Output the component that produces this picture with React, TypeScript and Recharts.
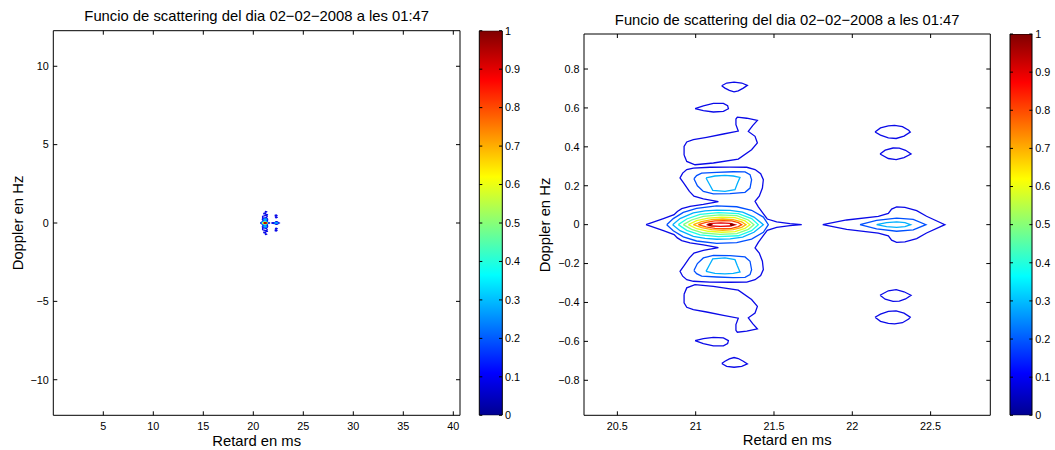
import React from 'react';
import { ScatterChart, Scatter, BarChart, Bar, XAxis, YAxis } from 'recharts';

type Pt = [number, number];

// ---------- texts ----------
const TITLE = 'Funcio de scattering del dia 02\u221202\u22122008 a les 01:47';
const X_LABEL = 'Retard en ms';
const Y_LABEL = 'Doppler en Hz';

// ---------- ticks / domains ----------
const leftXTicks = [5, 10, 15, 20, 25, 30, 35, 40];
const leftYTicks = [-10, -5, 0, 5, 10];
const leftXDomain: [number, number] = [0, 40.67];
const leftYDomain: [number, number] = [-12.27, 12.27];

const rightXTicks = [20.5, 21, 21.5, 22, 22.5];
const rightYTicks = [-0.8, -0.6, -0.4, -0.2, 0, 0.2, 0.4, 0.6, 0.8];
const rightXDomain: [number, number] = [20.287, 22.881];
const rightYDomain: [number, number] = [-0.98, 0.98];

const colorbarTicks = [0, 0.1, 0.2, 0.3, 0.4, 0.5, 0.6, 0.7, 0.8, 0.9, 1];
const colorbarData = [{ name: 'jet', v: 1 }];

// ---------- contour lines (Retard ms, Doppler Hz) ----------
const mainOuter: Pt[] = [
  [20.683, 0], [20.794, 0.031], [20.862, 0.051], [20.883, 0.068], [20.911, 0.082], [20.964, 0.094],
  [21.049, 0.104], [21.145, 0.118], [21.049, 0.132], [20.989, 0.146], [20.96, 0.171], [20.926, 0.211],
  [20.9, 0.24], [20.917, 0.265], [20.943, 0.283], [20.985, 0.291], [21.091, 0.295], [21.219, 0.296],
  [21.326, 0.295], [21.379, 0.283], [21.415, 0.262], [21.432, 0.231], [21.426, 0.188], [21.406, 0.146],
  [21.379, 0.12], [21.4, 0.091], [21.428, 0.06], [21.457, 0.029], [21.517, 0.014], [21.602, 0.005],
  [21.677, 0],
  [21.602, -0.005], [21.517, -0.014], [21.457, -0.029], [21.428, -0.06], [21.4, -0.091], [21.379, -0.12],
  [21.406, -0.146], [21.426, -0.188], [21.432, -0.231], [21.415, -0.262], [21.379, -0.283], [21.326, -0.295],
  [21.219, -0.296], [21.091, -0.295], [20.985, -0.291], [20.943, -0.283], [20.917, -0.265], [20.9, -0.24],
  [20.926, -0.211], [20.96, -0.171], [20.989, -0.146], [21.049, -0.132], [21.145, -0.118], [21.049, -0.104],
  [20.964, -0.094], [20.911, -0.082], [20.883, -0.068], [20.862, -0.051], [20.794, -0.031], [20.683, 0],
];

const blobUpper: Pt[] = [
  [20.926, 0.358], [20.926, 0.402], [20.943, 0.425], [20.985, 0.437], [21.07, 0.449], [21.177, 0.466],
  [21.272, 0.481], [21.257, 0.514], [21.257, 0.543], [21.266, 0.553], [21.326, 0.547], [21.394, 0.536],
  [21.364, 0.509], [21.336, 0.479], [21.379, 0.454], [21.394, 0.42], [21.357, 0.385], [21.272, 0.337],
  [21.113, 0.317], [20.996, 0.308], [20.943, 0.325], [20.926, 0.358],
];
const blobLower: Pt[] = [
  [20.926, -0.358], [20.926, -0.402], [20.943, -0.425], [20.985, -0.437], [21.07, -0.449], [21.177, -0.466],
  [21.272, -0.481], [21.257, -0.514], [21.257, -0.543], [21.266, -0.553], [21.326, -0.547], [21.394, -0.536],
  [21.364, -0.509], [21.336, -0.479], [21.379, -0.454], [21.394, -0.42], [21.357, -0.385], [21.272, -0.337],
  [21.113, -0.317], [20.996, -0.308], [20.943, -0.325], [20.926, -0.358],
];

const ovalTopUpper: Pt[] = [
  [21.166, 0.714], [21.198, 0.728], [21.245, 0.733], [21.294, 0.728], [21.33, 0.716], [21.304, 0.702],
  [21.272, 0.688], [21.245, 0.683], [21.215, 0.69], [21.187, 0.702], [21.166, 0.714],
];
const ovalTopLower: Pt[] = [
  [21.166, -0.714], [21.198, -0.728], [21.245, -0.733], [21.294, -0.728], [21.33, -0.716], [21.304, -0.702],
  [21.272, -0.688], [21.245, -0.683], [21.215, -0.69], [21.187, -0.702], [21.166, -0.714],
];
const ovalMidUpper: Pt[] = [
  [20.996, 0.596], [21.049, 0.611], [21.113, 0.623], [21.177, 0.623], [21.204, 0.611], [21.209, 0.596],
  [21.177, 0.582], [21.113, 0.579], [21.049, 0.586], [20.996, 0.596],
];
const ovalMidLower: Pt[] = [
  [20.996, -0.596], [21.049, -0.611], [21.113, -0.623], [21.177, -0.623], [21.204, -0.611], [21.209, -0.596],
  [21.177, -0.582], [21.113, -0.579], [21.049, -0.586], [20.996, -0.596],
];

const lobeUpper2: Pt[] = [
  [20.989, 0.236], [21.006, 0.252], [21.038, 0.265], [21.134, 0.269], [21.24, 0.272], [21.315, 0.271],
  [21.347, 0.257], [21.357, 0.231], [21.347, 0.188], [21.315, 0.166], [21.219, 0.159], [21.113, 0.158],
  [21.049, 0.171], [21.011, 0.2], [20.989, 0.236],
];
const lobeLower2: Pt[] = [
  [20.989, -0.236], [21.006, -0.252], [21.038, -0.265], [21.134, -0.269], [21.24, -0.272], [21.315, -0.271],
  [21.347, -0.257], [21.357, -0.231], [21.347, -0.188], [21.315, -0.166], [21.219, -0.159], [21.113, -0.158],
  [21.049, -0.171], [21.011, -0.2], [20.989, -0.236],
];
const lobeUpper3: Pt[] = [
  [21.066, 0.24], [21.123, 0.25], [21.187, 0.253], [21.24, 0.25], [21.283, 0.243], [21.266, 0.211],
  [21.251, 0.18], [21.187, 0.171], [21.109, 0.176], [21.087, 0.209], [21.066, 0.24],
];
const lobeLower3: Pt[] = [
  [21.066, -0.24], [21.123, -0.25], [21.187, -0.253], [21.24, -0.25], [21.283, -0.243], [21.266, -0.211],
  [21.251, -0.18], [21.187, -0.171], [21.109, -0.176], [21.087, -0.209], [21.066, -0.24],
];

const core2: Pt[] = [
  [20.815, 0], [20.857, 0.031], [20.921, 0.063], [21.006, 0.084], [21.134, 0.096], [21.262, 0.092],
  [21.357, 0.074], [21.432, 0.039], [21.464, 0], [21.432, -0.039], [21.357, -0.074], [21.262, -0.092],
  [21.134, -0.096], [21.006, -0.084], [20.921, -0.063], [20.857, -0.031], [20.815, 0],
];
const core3: Pt[] = [
  [20.853, 0], [20.9, 0.031], [20.985, 0.06], [21.06, 0.071], [21.134, 0.075], [21.22, 0.073], [21.3, 0.064],
  [21.372, 0.039], [21.432, 0], [21.372, -0.039], [21.3, -0.064], [21.22, -0.073], [21.134, -0.075],
  [21.06, -0.071], [20.985, -0.06], [20.9, -0.031], [20.853, 0],
];
const core4: Pt[] = [
  [20.889, 0], [20.943, 0.029], [21.028, 0.053], [21.145, 0.062], [21.272, 0.057], [21.357, 0.031], [21.4, 0],
  [21.357, -0.031], [21.272, -0.057], [21.145, -0.062], [21.028, -0.053], [20.943, -0.029], [20.889, 0],
];
const core5: Pt[] = [
  [20.921, 0], [20.974, 0.024], [21.049, 0.043], [21.155, 0.05], [21.262, 0.046], [21.336, 0.024], [21.372, 0],
  [21.336, -0.024], [21.262, -0.046], [21.155, -0.05], [21.049, -0.043], [20.974, -0.024], [20.921, 0],
];
const core6: Pt[] = [
  [20.953, 0], [21.006, 0.021], [21.081, 0.034], [21.166, 0.039], [21.251, 0.036], [21.315, 0.019], [21.347, 0],
  [21.315, -0.019], [21.251, -0.036], [21.166, -0.039], [21.081, -0.034], [21.006, -0.021], [20.953, 0],
];
const core7: Pt[] = [
  [20.985, 0], [21.038, 0.015], [21.102, 0.026], [21.172, 0.029], [21.24, 0.026], [21.294, 0.014], [21.321, 0],
  [21.294, -0.014], [21.24, -0.026], [21.172, -0.029], [21.102, -0.026], [21.038, -0.015], [20.985, 0],
];
const core8: Pt[] = [
  [21.017, 0], [21.066, 0.012], [21.123, 0.019], [21.177, 0.021], [21.23, 0.019], [21.272, 0.01], [21.294, 0],
  [21.272, -0.01], [21.23, -0.019], [21.177, -0.021], [21.123, -0.019], [21.066, -0.012], [21.017, 0],
];
const core9: Pt[] = [
  [21.07, 0], [21.102, 0.007], [21.16, 0.009], [21.219, 0.007], [21.251, 0],
  [21.219, -0.007], [21.16, -0.009], [21.102, -0.007], [21.07, 0],
];
const peakLeft: Pt[] = [[21.08, 0], [21.091, 0.004], [21.102, 0], [21.091, -0.004], [21.08, 0]];
const peakRight: Pt[] = [[21.219, 0], [21.23, 0.004], [21.241, 0], [21.23, -0.004], [21.219, 0]];

const echo1: Pt[] = [
  [21.811, 0], [21.964, 0.024], [22.166, 0.043], [22.23, 0.058], [22.251, 0.08], [22.283, 0.091], [22.336, 0.089],
  [22.411, 0.072], [22.474, 0.043], [22.591, 0], [22.474, -0.043], [22.411, -0.072], [22.336, -0.089],
  [22.283, -0.091], [22.251, -0.08], [22.23, -0.058], [22.166, -0.043], [21.964, -0.024], [21.811, 0],
];
const echo2: Pt[] = [
  [22.049, 0], [22.155, 0.022], [22.283, 0.034], [22.389, 0.027], [22.47, 0],
  [22.389, -0.027], [22.283, -0.034], [22.155, -0.022], [22.049, 0],
];
const echo3: Pt[] = [
  [22.155, 0], [22.219, 0.01], [22.283, 0.014], [22.336, 0.01], [22.372, 0],
  [22.336, -0.01], [22.283, -0.014], [22.219, -0.01], [22.155, 0],
];
const echoOvalA: Pt[] = [
  [22.145, 0.476], [22.18, 0.497], [22.23, 0.508], [22.27, 0.51], [22.32, 0.504], [22.36, 0.485], [22.37, 0.476],
  [22.33, 0.455], [22.28, 0.443], [22.23, 0.446], [22.18, 0.46], [22.145, 0.476],
];
const echoOvalB: Pt[] = [
  [22.177, 0.363], [22.21, 0.383], [22.26, 0.394], [22.3, 0.393], [22.34, 0.382], [22.375, 0.363],
  [22.33, 0.345], [22.28, 0.334], [22.23, 0.34], [22.177, 0.363],
];
const echoOvalC: Pt[] = [
  [22.177, -0.363], [22.21, -0.383], [22.26, -0.394], [22.3, -0.393], [22.34, -0.382], [22.375, -0.363],
  [22.33, -0.345], [22.28, -0.334], [22.23, -0.34], [22.177, -0.363],
];
const echoOvalD: Pt[] = [
  [22.145, -0.476], [22.18, -0.497], [22.23, -0.508], [22.27, -0.51], [22.32, -0.504], [22.36, -0.485], [22.37, -0.476],
  [22.33, -0.455], [22.28, -0.443], [22.23, -0.446], [22.18, -0.46], [22.145, -0.476],
];

// contour level of each line (1 = 0.1 ... 9 = 0.9, 10 = peak)
const contourSet: { level: number; pts: Pt[] }[] = [
  { level: 1, pts: mainOuter },
  { level: 1, pts: blobUpper },
  { level: 1, pts: blobLower },
  { level: 1, pts: ovalTopUpper },
  { level: 1, pts: ovalTopLower },
  { level: 1, pts: ovalMidUpper },
  { level: 1, pts: ovalMidLower },
  { level: 1, pts: echo1 },
  { level: 1, pts: echoOvalA },
  { level: 1, pts: echoOvalB },
  { level: 1, pts: echoOvalC },
  { level: 1, pts: echoOvalD },
  { level: 2, pts: lobeUpper2 },
  { level: 2, pts: lobeLower2 },
  { level: 2, pts: core2 },
  { level: 2, pts: echo2 },
  { level: 3, pts: lobeUpper3 },
  { level: 3, pts: lobeLower3 },
  { level: 3, pts: core3 },
  { level: 3, pts: echo3 },
  { level: 4, pts: core4 },
  { level: 5, pts: core5 },
  { level: 6, pts: core6 },
  { level: 7, pts: core7 },
  { level: 8, pts: core8 },
  { level: 9, pts: core9 },
  { level: 10, pts: peakLeft },
  { level: 10, pts: peakRight },
];

// ---------- styles ----------
const levelColors = ['#0a0ae8', '#0050ff', '#00b0ff', '#1affe6', '#80ff80', '#e6ff1a', '#ffb300', '#ff4d00', '#e60000', '#800000'];
const FONT = '"Liberation Sans", Arial, Helvetica, sans-serif';
const TICK_FONT = 10.8;
const LABEL_FONT = 14.8;
const TICK_LEN = 4;
const X_MARGIN = 7;
const Y_MARGIN = 4.5;
const CB_TICK = 3;
const CB_MARGIN = 3;

const fmt = (v: number) => (v < 0 ? '\u2212' + String(Math.abs(v)) : String(v));

const NoDot = () => <g />;

const BottomTick = (p: any) => (
  <g>
    <line x1={p.x} x2={p.x} y1={p.y - X_MARGIN} y2={p.y - X_MARGIN - TICK_LEN} stroke="#000" strokeWidth={1} />
    <text x={p.x} y={p.y} dy="0.71em" textAnchor="middle" fontSize={TICK_FONT} fontFamily={FONT} fill="#000">
      {fmt(p.payload.value)}
    </text>
  </g>
);
const LeftTick = (p: any) => (
  <g>
    <line x1={p.x + Y_MARGIN} x2={p.x + Y_MARGIN + TICK_LEN} y1={p.y} y2={p.y} stroke="#000" strokeWidth={1} />
    <text x={p.x} y={p.y} dy="0.355em" textAnchor="end" fontSize={TICK_FONT} fontFamily={FONT} fill="#000">
      {fmt(p.payload.value)}
    </text>
  </g>
);
const TopTick = (p: any) => (
  <line x1={p.x} x2={p.x} y1={p.y} y2={p.y + TICK_LEN} stroke="#000" strokeWidth={1} />
);
const RightTick = (p: any) => (
  <line x1={p.x} x2={p.x - TICK_LEN} y1={p.y} y2={p.y} stroke="#000" strokeWidth={1} />
);
const CbLeftTick = (p: any) => (
  <line x1={p.x} x2={p.x + CB_TICK} y1={p.y} y2={p.y} stroke="#000" strokeWidth={1} />
);
const CbRightTick = (p: any) => (
  <g>
    <line x1={p.x - CB_MARGIN} x2={p.x - CB_MARGIN - CB_TICK} y1={p.y} y2={p.y} stroke="#000" strokeWidth={1} />
    <text x={p.x} y={p.y} dy="0.355em" textAnchor="start" fontSize={TICK_FONT} fontFamily={FONT} fill="#000">
      {fmt(p.payload.value)}
    </text>
  </g>
);

const AXIS_LINE = { stroke: '#000', strokeWidth: 1 };

type PanelProps = {
  left: number;
  width: number;
  marginRight: number;
  leftW: number;
  rightW: number;
  topH: number;
  bottomH: number;
  xDomain: [number, number];
  yDomain: [number, number];
  xTicks: number[];
  yTicks: number[];
};

function Panel(props: PanelProps) {
  const { left, width, marginRight, leftW, rightW, topH, bottomH, xDomain, yDomain, xTicks, yTicks } = props;
  return (
    <div style={{ position: 'absolute', left, top: 0 }}>
      <ScatterChart width={width} height={450} margin={{ top: 0, right: marginRight, bottom: 0, left: 0 }}>
        <XAxis
          xAxisId="b" orientation="bottom" type="number" dataKey="x" domain={xDomain} ticks={xTicks}
          allowDataOverflow interval={0} height={bottomH} tickSize={0} tickMargin={X_MARGIN}
          tickLine={false} axisLine={AXIS_LINE} tick={BottomTick}
        />
        <XAxis
          xAxisId="t" orientation="top" type="number" dataKey="x" domain={xDomain} ticks={xTicks}
          allowDataOverflow interval={0} height={topH} tickSize={0} tickMargin={0}
          tickLine={false} axisLine={AXIS_LINE} tick={TopTick}
        />
        <YAxis
          yAxisId="l" orientation="left" type="number" dataKey="y" domain={yDomain} ticks={yTicks}
          allowDataOverflow interval={0} width={leftW} tickSize={0} tickMargin={Y_MARGIN}
          tickLine={false} axisLine={AXIS_LINE} tick={LeftTick}
        />
        <YAxis
          yAxisId="r" orientation="right" type="number" dataKey="y" domain={yDomain} ticks={yTicks}
          allowDataOverflow interval={0} width={rightW} tickSize={0} tickMargin={0}
          tickLine={false} axisLine={AXIS_LINE} tick={RightTick}
        />
        {contourSet.map((c, i) => (
          <Scatter
            key={i}
            xAxisId="b"
            yAxisId="l"
            data={c.pts.map(([x, y]) => ({ x, y }))}
            line={{ stroke: levelColors[c.level - 1], strokeWidth: 1.3 }}
            lineType="joint"
            shape={NoDot}
            fill={levelColors[c.level - 1]}
            isAnimationActive={false}
          />
        ))}
      </ScatterChart>
    </div>
  );
}

type BarProps = { left: number; width: number; leftW: number; rightW: number; top: number; bottom: number };

function ColorBar({ left, width, leftW, rightW, top, bottom }: BarProps) {
  return (
    <div style={{ position: 'absolute', left, top: 0 }}>
      <BarChart
        width={width} height={450} data={colorbarData}
        margin={{ top, right: 0, bottom, left: 0 }} barCategoryGap={0} barGap={0}
      >
        <XAxis dataKey="name" type="category" hide />
        <YAxis
          yAxisId="cl" orientation="left" type="number" domain={[0, 1]} ticks={colorbarTicks}
          allowDataOverflow interval={0} width={leftW} tickSize={0} tickMargin={0}
          tickLine={false} axisLine={false} tick={CbLeftTick}
        />
        <YAxis
          yAxisId="cr" orientation="right" type="number" domain={[0, 1]} ticks={colorbarTicks}
          allowDataOverflow interval={0} width={rightW} tickSize={0} tickMargin={CB_MARGIN}
          tickLine={false} axisLine={false} tick={CbRightTick}
        />
        <Bar
          dataKey="v" yAxisId="cl" fill="url(#jetGradient)" stroke="#000" strokeWidth={1}
          isAnimationActive={false}
        />
      </BarChart>
    </div>
  );
}

export default function App() {
  return (
    <div
      style={{
        position: 'absolute', left: 0, top: 0, width: 1055, height: 450,
        background: '#fff', fontFamily: FONT, overflow: 'hidden',
      }}
    >
      <svg width={1} height={1} style={{ position: 'absolute', left: 0, top: 0 }}>
        <defs>
          <linearGradient id="jetGradient" x1="0" y1="1" x2="0" y2="0">
            <stop offset="0" stopColor="#000090" />
            <stop offset="0.11" stopColor="#0000ff" />
            <stop offset="0.365" stopColor="#00ffff" />
            <stop offset="0.62" stopColor="#ffff00" />
            <stop offset="0.873" stopColor="#ff0000" />
            <stop offset="1" stopColor="#800000" />
          </linearGradient>
        </defs>
      </svg>

      <Panel
        left={0} width={470} marginRight={5} leftW={53.3} rightW={5} topH={30.7} bottomH={34.7}
        xDomain={leftXDomain} yDomain={leftYDomain} xTicks={leftXTicks} yTicks={leftYTicks}
      />
      <ColorBar left={470} width={60} leftW={9.3} rightW={28} top={30.7} bottom={34.7} />

      <Panel
        left={530} width={470} marginRight={4.7} leftW={54} rightW={5} topH={34} bottomH={34.7}
        xDomain={rightXDomain} yDomain={rightYDomain} xTicks={rightXTicks} yTicks={rightYTicks}
      />
      <ColorBar left={1000} width={55} leftW={10} rightW={22.7} top={34} bottom={34.7} />

      <svg
        width={1055} height={450}
        style={{ position: 'absolute', left: 0, top: 0, pointerEvents: 'none' }}
        fontFamily={FONT}
      >
        <text x={256.7} y={20.7} textAnchor="middle" fontSize={LABEL_FONT} fill="#000">{TITLE}</text>
        <text x={787.2} y={25.3} textAnchor="middle" fontSize={LABEL_FONT} fill="#000">{TITLE}</text>
        <text x={256.7} y={445.8} textAnchor="middle" fontSize={LABEL_FONT} fill="#000">{X_LABEL}</text>
        <text x={787.2} y={445} textAnchor="middle" fontSize={LABEL_FONT} fill="#000">{X_LABEL}</text>
        <text x={23} y={223} transform="rotate(-90 23 223)" textAnchor="middle" fontSize={LABEL_FONT} fill="#000">
          {Y_LABEL}
        </text>
        <text x={549.5} y={225} transform="rotate(-90 549.5 225)" textAnchor="middle" fontSize={LABEL_FONT} fill="#000">
          {Y_LABEL}
        </text>
      </svg>
    </div>
  );
}
